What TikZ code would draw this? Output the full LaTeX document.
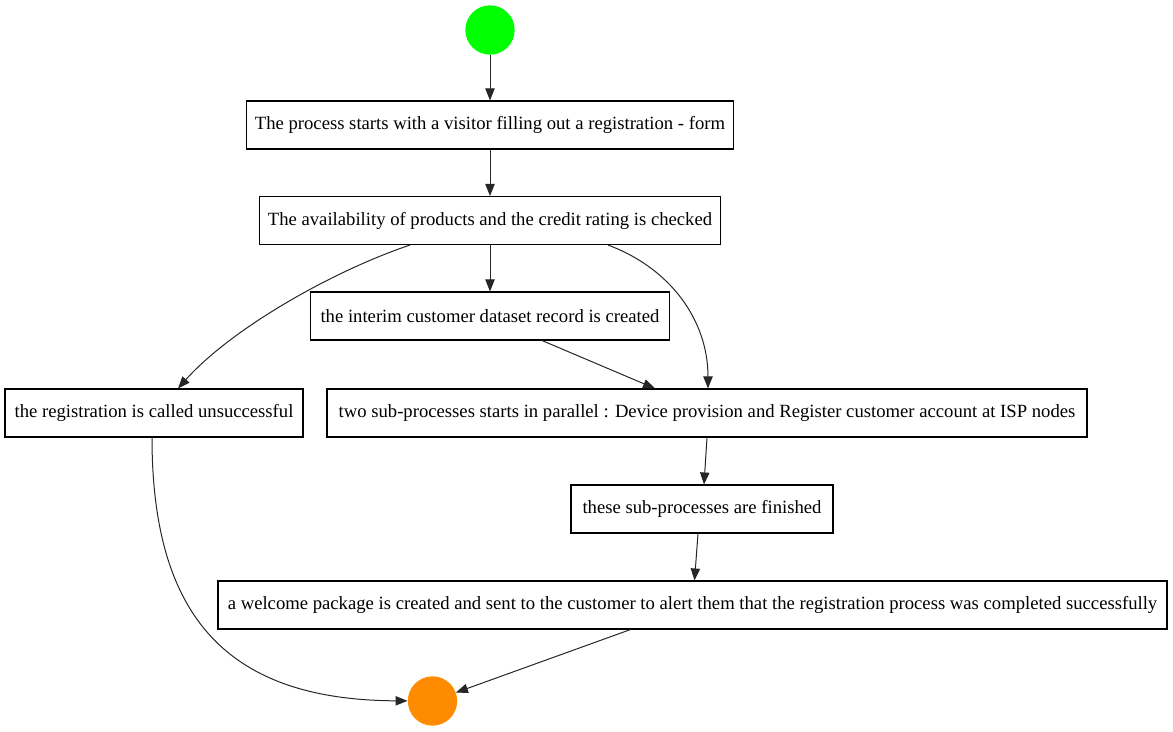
\documentclass[tikz,border=0pt]{standalone}
\usepackage{fontspec}
\setmainfont{Liberation Serif}
\usetikzlibrary{arrows.meta}
\definecolor{edgec}{HTML}{262626}
\definecolor{startc}{HTML}{00FF00}
\definecolor{endc}{HTML}{FF8C00}
\tikzset{
  box/.style={draw=black, line width=0.8pt, fill=white, minimum height=36pt, inner sep=0pt, font=\fontsize{14pt}{16pt}\selectfont},
  dot/.style={circle, minimum size=37pt, inner sep=0pt},
  edge/.style={draw=edgec, line width=0.75pt, -{Triangle[length=9pt,width=7pt]}}
}
\begin{document}
\begin{tikzpicture}[x=0.75pt,y=-0.75pt]
\useasboundingbox (0,0) rectangle (1173,731);
\node[dot, fill=startc] (s) at (490,30) {};
\node[box, minimum width=365pt] (b1) at (490,125) {The process starts with a visitor filling out a registration - form};
\node[box, minimum width=345.75pt] (b2) at (490,220.5) {The availability of products and the credit rating is checked};
\node[box, minimum width=269.25pt] (b3) at (490,316) {the interim customer dataset record is created};
\node[box, minimum width=223.5pt] (b4) at (154,413) {the registration is called unsuccessful};
\node[box, minimum width=570pt] (b5) at (707,413) {two sub-processes starts in parallel : Device provision and Register customer account at ISP nodes};
\node[box, minimum width=196.5pt] (b6) at (702,509) {these sub-processes are finished};
\node[box, minimum width=711.75pt] (b7) at (692.5,605) {a welcome package is created and sent to the customer to alert them that the registration process was completed successfully};
\node[dot, fill=endc] (e) at (432.5,701) {};

\draw[edge] (s) -- (b1);
\draw[edge] (b1) -- (b2);
\draw[edge] (b2) -- (b3);
\draw[edge] ([xshift=-60pt]b2.south) .. controls (330,272) and (230,330) .. ([xshift=18pt]b4.north);
\draw[edge] ([xshift=88.5pt]b2.south) .. controls (670,268) and (708,320) .. ([xshift=0.75pt]b5.north);
\draw[edge] ([xshift=39pt]b3.south) -- ([xshift=-39pt]b5.north);
\draw[edge] (b5.south) -- ([xshift=1.5pt]b6.north);
\draw[edge] ([xshift=-3pt]b6.south) -- ([xshift=1.5pt]b7.north);
\draw[edge] ([xshift=-1.5pt]b4.south) .. controls (152,620) and (230,700) .. (e);
\draw[edge] ([xshift=-46.5pt]b7.south) -- (e);
\end{tikzpicture}
\end{document}
